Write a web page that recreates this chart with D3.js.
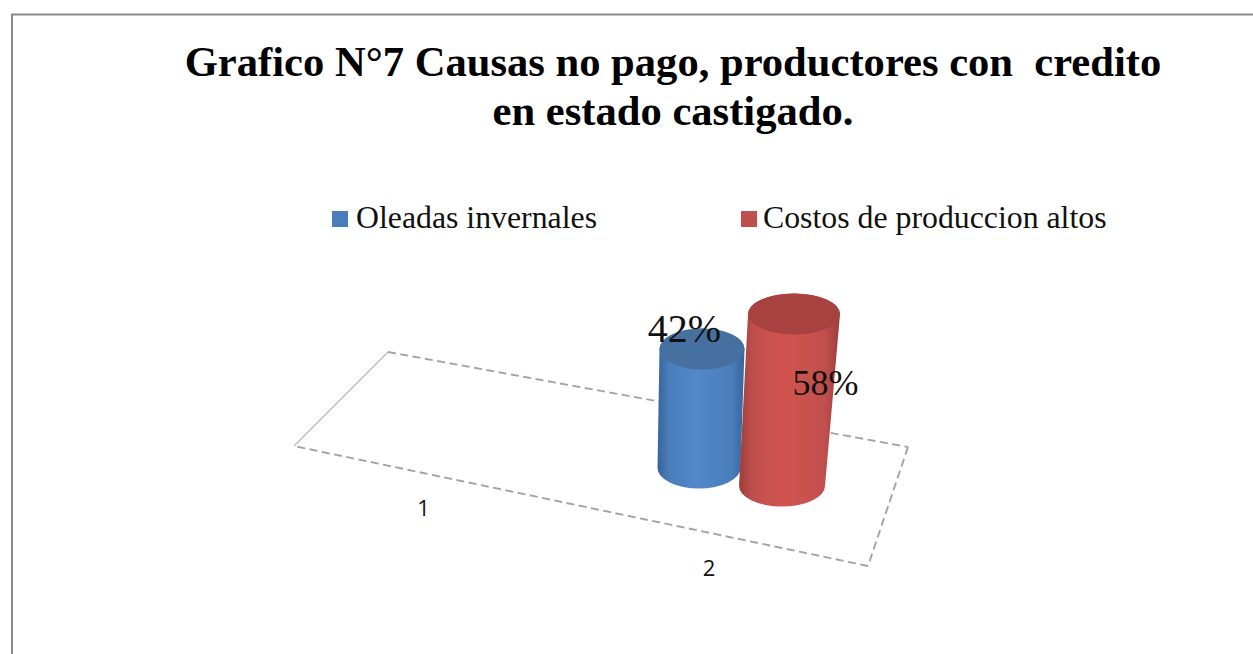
<!DOCTYPE html>
<html><head><meta charset="utf-8">
<script src="https://d3js.org/d3.v7.min.js"></script>
<style>html,body{margin:0;padding:0;background:#fff}svg{display:block}</style>
</head><body><div id="c"></div>
<script>
const titleLines = ["Grafico N°7 Causas no pago, productores con  credito", "en estado castigado."];
const series = ["Oleadas invernales", "Costos de produccion altos"];
const values = [42, 58];
const valueLabels = ["42%", "58%"];
const categories = ["1", "2"];
const colors = ["#4a7ebb", "#c0504d"];
const darkColors = ["#37659c", "#9c3d3a"];
const lightColors = ["#5288c9", "#d2534f"];
const topColors = ["#44709f", "#a8423f"];

const W = 1253, H = 654;
const svg = d3.select("#c").append("svg").attr("width", W).attr("height", H);
const serif = "'Liberation Serif','Times New Roman',serif";

// chart frame
svg.append("path").attr("d", d3.line()([[12, H], [12, 14.5], [W, 14.5]]))
  .attr("fill", "none").attr("stroke", "#8a8a8a").attr("stroke-width", 2);

// title
svg.append("g").selectAll("text").data(titleLines).join("text")
  .attr("x", 673).attr("y", (d, i) => 76 + i * 49)
  .attr("text-anchor", "middle").attr("font-family", serif)
  .attr("font-weight", "bold").attr("font-size", 42.6).attr("xml:space", "preserve")
  .style("white-space", "pre").text(d => d);

// legend
const legendX = d3.scaleOrdinal().domain(series).range([332, 741]);
const legendTextX = d3.scaleOrdinal().domain(series).range([356, 763]);
const leg = svg.append("g").selectAll("g").data(series).join("g");
leg.append("rect").attr("x", d => legendX(d)).attr("y", 211).attr("width", 16).attr("height", 16)
  .attr("fill", (d, i) => colors[i]);
leg.append("text").attr("x", d => legendTextX(d)).attr("y", 228).attr("font-family", serif)
  .attr("font-size", 31.8).attr("fill", "#111").text(d => d);

// floor, in unit coordinates projected to the picture
const floorU = d3.scaleLinear().domain([0, 1]);
const project = (u, v) => {
  const fl = [294, 446], fr = [868, 566], bl = [388, 352], br = [908, 447];
  const a = floorU.copy().range([fl[0], fr[0]])(u), b = floorU.copy().range([fl[1], fr[1]])(u);
  const c = floorU.copy().range([bl[0], br[0]])(u), d = floorU.copy().range([bl[1], br[1]])(u);
  return [a + (c - a) * v, b + (d - b) * v];
};
const floor = svg.append("g").attr("fill", "none").attr("stroke", "#a3a3a3").attr("stroke-width", 1.9);
const edge = d3.line();
floor.append("path").attr("d", edge([project(0, 0), project(0, 1)])).attr("stroke", "#bdbdbd").attr("stroke-width", 1.5);
[[[0, 1], [1, 1]], [[1, 1], [1, 0]], [[1, 0], [0, 0]]].forEach(e =>
  floor.append("path").attr("d", edge(e.map(p => project(p[0], p[1])))).attr("stroke-dasharray", "8 4.5"));

// category labels
const catX = d3.scalePoint().domain(categories).range([423.5, 709]);
const catY = d3.scalePoint().domain(categories).range([516, 576]);
svg.append("g").selectAll("text").data(categories).join("text")
  .attr("x", d => catX(d)).attr("y", d => catY(d)).attr("text-anchor", "middle")
  .attr("font-family", "'Open Sans','Noto Sans',sans-serif").attr("font-size", 22).attr("fill", "#111").text(d => d);

// cylinders
const baseX = d3.scalePoint().domain(series).range([699, 782]);
const baseY = d3.scalePoint().domain(series).range([468, 486]);
const hgt = d3.scaleLinear().domain([42, 58]).range([119, 172]);
const lean = d3.scaleLinear().domain([42, 58]).range([3, 12]);
const rxTop = d3.scaleLinear().domain([42, 58]).range([42.5, 46]);
const rxBot = d3.scaleLinear().domain([42, 58]).range([41.5, 43]);
const ry = 20.5;

const defs = svg.append("defs");
defs.append("filter").attr("id", "soft").append("feGaussianBlur").attr("stdDeviation", 0.7);
series.forEach((s, i) => {
  const g = defs.append("linearGradient").attr("id", "body" + i);
  [[0, darkColors[i]], [0.14, colors[i]], [0.45, lightColors[i]], [0.85, colors[i]], [1, darkColors[i]]]
    .forEach(st => g.append("stop").attr("offset", st[0]).attr("stop-color", st[1]));
});
const cyl = svg.append("g").attr("filter", "url(#soft)").selectAll("g")
  .data(series.map((s, i) => ({ s, v: values[i], i }))).join("g");
cyl.append("path").attr("fill", d => `url(#body${d.i})`).attr("d", d => {
  const bx = baseX(d.s), by = baseY(d.s), tx = bx + lean(d.v), ty = by - hgt(d.v);
  const rt = rxTop(d.v), rb = rxBot(d.v);
  return `M${tx - rt},${ty}L${bx - rb},${by}A${rb},${ry} 0 0 0 ${bx + rb},${by}L${tx + rt},${ty}A${rt},${ry} 0 0 0 ${tx - rt},${ty}Z`;
});
cyl.append("ellipse").attr("fill", d => topColors[d.i])
  .attr("cx", d => baseX(d.s) + lean(d.v)).attr("cy", d => baseY(d.s) - hgt(d.v))
  .attr("rx", d => rxTop(d.v)).attr("ry", ry);

// value labels
const labelX = d3.scalePoint().domain(series).range([684.5, 825.5]);
const labelY = d3.scalePoint().domain(series).range([342, 395]);
const labelSize = d3.scaleOrdinal().domain(series).range([40, 36]);
svg.append("g").selectAll("text").data(series).join("text")
  .attr("x", d => labelX(d)).attr("y", d => labelY(d)).attr("text-anchor", "middle")
  .attr("font-family", serif).attr("font-size", d => labelSize(d)).attr("fill", "#111")
  .text((d, i) => valueLabels[i]);
</script></body></html>
